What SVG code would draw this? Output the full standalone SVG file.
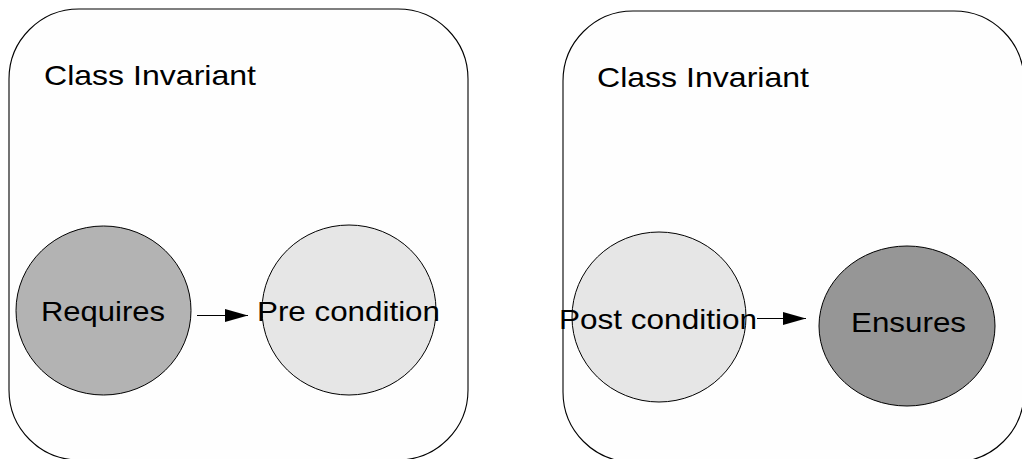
<svg xmlns="http://www.w3.org/2000/svg" width="1022" height="459" viewBox="0 0 1022 459">
<style>
.box{fill:#fefefe;stroke:#000;stroke-width:1.1}
.node{stroke:#000;stroke-width:1}
.lbl{font-family:"Liberation Sans",Arial,sans-serif;font-size:28px;fill:#000}
.conn{stroke:#000;stroke-width:1;fill:none}
</style>
<defs>
<marker id="arr" markerUnits="userSpaceOnUse" markerWidth="24" markerHeight="14" refX="23" refY="6.5" orient="auto" viewBox="0 0 24 14">
<path d="M0,0 L23,6.5 L0,13 z" fill="#000"/>
</marker>
</defs>
<rect width="1022" height="459" fill="#fff"/>
<g id="box-left">
<rect class="box" x="9" y="9" width="459" height="451" rx="70" ry="70"/>
<text class="lbl" x="44" y="85" textLength="212" lengthAdjust="spacingAndGlyphs">Class Invariant</text>
</g>
<g id="box-right">
<rect class="box" x="563" y="11" width="461" height="451" rx="70" ry="70"/>
<text class="lbl" x="597" y="87" textLength="212" lengthAdjust="spacingAndGlyphs">Class Invariant</text>
</g>
<g id="requires">
<ellipse class="node" cx="103.5" cy="310.5" rx="87.5" ry="84.5" fill="#b3b3b3"/>
<text class="lbl" x="41" y="321" textLength="124" lengthAdjust="spacingAndGlyphs">Requires</text>
</g>
<g id="precondition">
<ellipse class="node" cx="349" cy="310" rx="87" ry="85" fill="#e6e6e6"/>
<text class="lbl" x="257" y="321" textLength="183" lengthAdjust="spacingAndGlyphs">Pre condition</text>
</g>
<g id="postcondition">
<ellipse class="node" cx="659" cy="317" rx="87" ry="85" fill="#e6e6e6"/>
<text class="lbl" x="559" y="329" textLength="198" lengthAdjust="spacingAndGlyphs">Post condition</text>
</g>
<g id="ensures">
<ellipse class="node" cx="907" cy="326" rx="88" ry="80" fill="#969696"/>
<text class="lbl" x="851" y="332" textLength="115" lengthAdjust="spacingAndGlyphs">Ensures</text>
</g>
<g id="connectors">
<line class="conn" x1="197" y1="315.5" x2="248" y2="315.5" marker-end="url(#arr)"/>
<line class="conn" x1="757" y1="318.5" x2="806" y2="318.5" marker-end="url(#arr)"/>
</g>
</svg>
